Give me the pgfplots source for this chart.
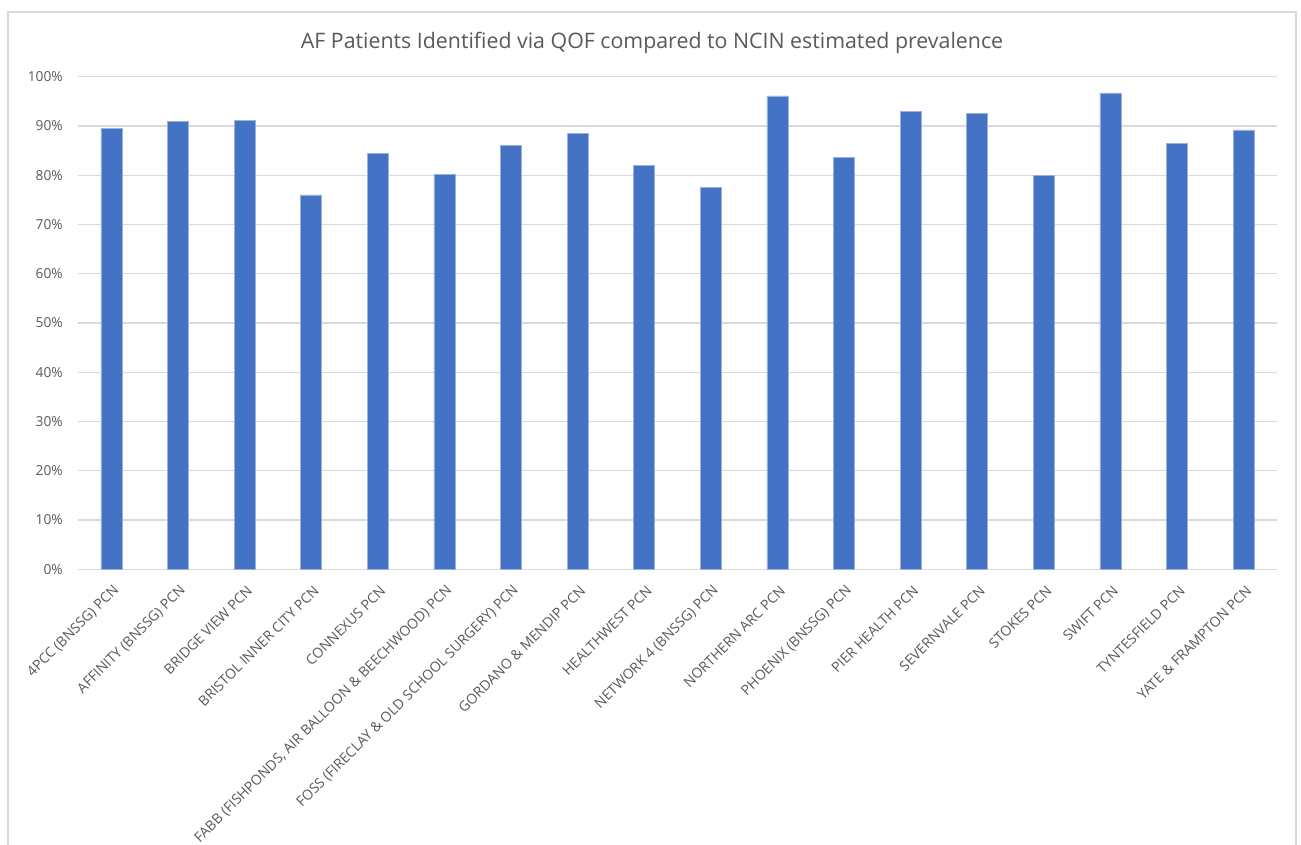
\documentclass[border=0pt]{standalone}
\usepackage{fontspec}
\setmainfont{Open Sans}
\usepackage{pgfplots}
\pgfplotsset{compat=1.18}
\definecolor{barblue}{HTML}{4472C4}
\definecolor{gridgray}{HTML}{D9D9D9}
\definecolor{textgray}{HTML}{595959}
\begin{document}
\begin{tikzpicture}
\useasboundingbox (0pt,0pt) rectangle (975.75pt,633pt);
\draw[gridgray, line width=1.2pt] (6pt,-2pt) -- (6pt,624pt) -- (972pt,624pt) -- (972pt,-2pt);
\node[textgray, anchor=base, inner sep=0pt, font=\fontsize{16}{19}\selectfont] at (489pt,596.25pt) {AF Patients Identified via QOF compared to NCIN estimated prevalence};
\begin{axis}[
  at={(58.5pt,206pt)}, anchor=south west,
  scale only axis, width=899.25pt, height=369.45pt,
  xmin=-0.5, xmax=17.5, ymin=0, ymax=100,
  axis x line*=bottom, axis y line*=left,
  x axis line style={gridgray, line width=0.9pt},
  y axis line style={draw=none},
  major tick length=0pt,
  xtick=data,
  xticklabels={4PCC (BNSSG) PCN, AFFINITY (BNSSG) PCN, BRIDGE VIEW PCN, BRISTOL INNER CITY PCN, CONNEXUS PCN, {FABB (FISHPONDS, AIR BALLOON \& BEECHWOOD) PCN}, FOSS (FIRECLAY \& OLD SCHOOL SURGERY) PCN, GORDANO \& MENDIP PCN, HEALTHWEST PCN, NETWORK 4 (BNSSG) PCN, NORTHERN ARC PCN, PHOENIX (BNSSG) PCN, PIER HEALTH PCN, SEVERNVALE PCN, STOKES PCN, SWIFT PCN, TYNTESFIELD PCN, YATE \& FRAMPTON PCN},
  xticklabel style={xshift=4pt, yshift=-14pt, rotate=45, anchor=east, inner sep=0pt, font=\fontsize{10.5}{12}\selectfont, text=textgray},
  ytick={0,10,...,100},
  yticklabel={\pgfmathprintnumber{\tick}\%},
  yticklabel style={anchor=east, inner sep=0pt, xshift=-11.25pt, font=\fontsize{10.3}{12}\selectfont, text=textgray},
  /pgf/number format/assume math mode=true,
  ymajorgrids, grid style={gridgray, line width=0.9pt},
  clip=false,
]
\addplot[ybar, bar width=15.75pt, fill=barblue, draw=barblue!55!white, line width=0.4pt] coordinates {
(0,89.5) (1,91.0) (2,91.2) (3,76.0) (4,84.5) (5,80.2) (6,86.1) (7,88.5) (8,82.0)
(9,77.5) (10,96.1) (11,83.7) (12,93.0) (13,92.6) (14,79.9) (15,96.7) (16,86.5) (17,89.2)
};
\end{axis}
\end{tikzpicture}
\end{document}
